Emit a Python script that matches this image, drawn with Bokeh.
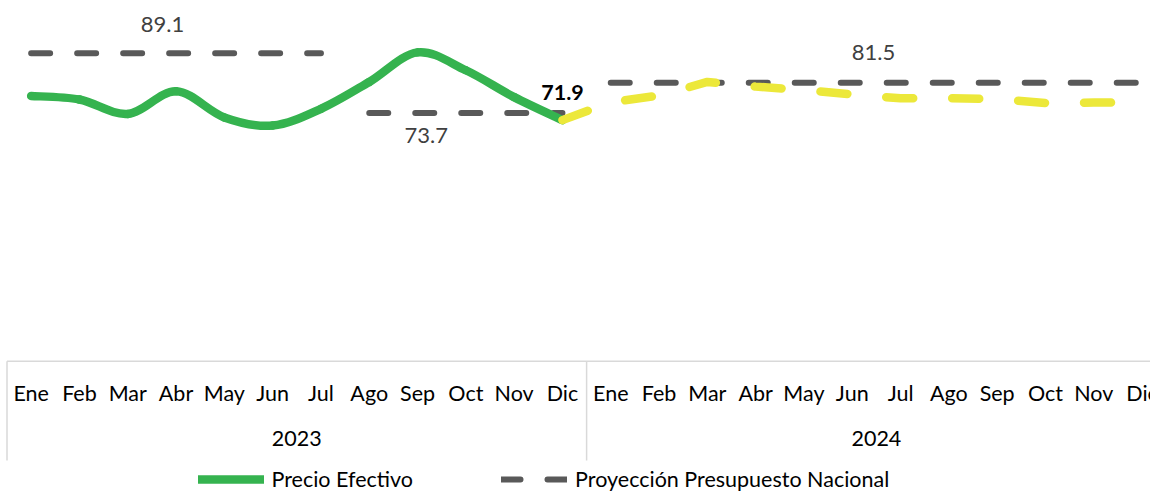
from bokeh.plotting import figure
from bokeh.models import Range1d, ColumnDataSource, Legend, LegendItem
from bokeh.core.properties import value
from bokeh.embed import file_html
from bokeh.resources import INLINE

# ---------------- data ----------------
meses = ["Ene", "Feb", "Mar", "Abr", "May", "Jun", "Jul", "Ago", "Sep", "Oct", "Nov", "Dic"]
anios = ["2023", "2024"]

# Precio Efectivo, Ene-Dic 2023
precio_efectivo = [78.1, 77.2, 73.5, 79.3, 72.6, 70.5, 74.8, 81.7, 89.3, 84.7, 77.8, 71.9]
# Precio estimado (amarillo), Dic 2023 - Dic 2024
precio_estimado = [71.9, 76.5, 78.2, 81.7, 80.5, 79.6, 78.5, 77.5, 77.5, 77.3, 76.3, 76.4, 76.4]
# Proyección Presupuesto Nacional
presupuesto_ene_jul_2023 = [89.1, 89.1, 89.1, 89.1, 89.1, 89.1, 89.1]
presupuesto_ago_dic_2023 = [73.7, 73.7, 73.7, 73.7, 73.7]
presupuesto_2024 = [81.5, 81.5, 81.5, 81.5, 81.5, 81.5, 81.5, 81.5, 81.5, 81.5, 81.5, 81.5]

# ---------------- layout ----------------
W, H = 1150, 491
PX_PER_CAT = 48.3
X0 = -30.65 / PX_PER_CAT
Y_MIN, Y_MAX = 10, 100            # value axis of the plotting area
PX_PER_UNIT = 3.896
AXIS_PY = 360.8                   # pixel row of the value-axis minimum
Y_BOTTOM = Y_MIN - (H - AXIS_PY) / PX_PER_UNIT
Y_TOP = Y_MIN + AXIS_PY / PX_PER_UNIT

FONT = "Lato"
GREEN = "#35b34f"
YELLOW = "#ece83a"
GRAY = "#595959"

p = figure(width=W, height=H, output_backend="svg", toolbar_location=None,
           x_range=Range1d(X0, X0 + W / PX_PER_CAT), y_range=Range1d(Y_BOTTOM, Y_TOP),
           min_border=0, outline_line_color=None)
p.xaxis.visible = False
p.yaxis.visible = False
p.xgrid.visible = False
p.ygrid.visible = False
p.background_fill_color = "white"
p.border_fill_color = "white"

n_cat = len(meses) * len(anios)

def v_of_px(py):
    return Y_MIN + (AXIS_PY - py) / PX_PER_UNIT

# category table (below the plotting area)
p.segment(x0=[-0.5], y0=[Y_MIN], x1=[n_cat - 0.5], y1=[Y_MIN], line_color="#d9d9d9", line_width=1.5)
sep_x = [-0.5 + k * len(meses) for k in range(len(anios) + 1)]
p.segment(x0=sep_x, y0=[Y_MIN] * len(sep_x), x1=sep_x, y1=[v_of_px(460)] * len(sep_x),
          line_color="#d9d9d9", line_width=1.5)

mes_x = list(range(n_cat))
mes_lbl = meses * len(anios)
p.text(x=mes_x, y=[v_of_px(392)] * n_cat, text=mes_lbl, text_align="center", text_baseline="middle",
       text_font=value(FONT), text_font_size="21.5px", text_color="#000000")
anio_x = [k * len(meses) + (len(meses) - 1) / 2 for k in range(len(anios))]
p.text(x=anio_x, y=[v_of_px(437.5)] * len(anios), text=anios, text_align="center", text_baseline="middle",
       text_font=value(FONT), text_font_size="21.5px", text_color="#000000")

# Proyección Presupuesto Nacional (gray dashed)
dash_gray = "19 27"
g1 = p.line(list(range(0, 7)), presupuesto_ene_jul_2023, line_color=GRAY, line_width=6,
            line_dash=dash_gray, line_cap="round")
p.line(list(range(7, 12)), presupuesto_ago_dic_2023, line_color=GRAY, line_width=6,
       line_dash=dash_gray, line_cap="round")
p.line(list(range(12, 24)), presupuesto_2024, line_color=GRAY, line_width=6,
       line_dash=dash_gray, line_cap="round")

# Precio Efectivo (green smoothed line, bezier segments)
xs = list(range(len(precio_efectivo)))
ys = precio_efectivo
seg = dict(x0=[], y0=[], x1=[], y1=[], cx0=[], cy0=[], cx1=[], cy1=[])
n = len(xs)
for i in range(n - 1):
    a = max(i - 1, 0)
    d = min(i + 2, n - 1)
    seg["x0"].append(xs[i]); seg["y0"].append(ys[i])
    seg["x1"].append(xs[i + 1]); seg["y1"].append(ys[i + 1])
    seg["cx0"].append(xs[i] + (xs[i + 1] - xs[a]) / 6); seg["cy0"].append(ys[i] + (ys[i + 1] - ys[a]) / 6)
    seg["cx1"].append(xs[i + 1] - (xs[d] - xs[i]) / 6); seg["cy1"].append(ys[i + 1] - (ys[d] - ys[i]) / 6)
green = p.bezier(source=ColumnDataSource(seg), x0="x0", y0="y0", x1="x1", y1="y1",
                 cx0="cx0", cy0="cy0", cx1="cx1", cy1="cy1",
                 line_color=GREEN, line_width=8.5, line_cap="round")

# estimated price (yellow dashed)
p.line(list(range(11, 11 + len(precio_estimado))), precio_estimado, line_color=YELLOW, line_width=8.5,
       line_dash="27 39", line_cap="round", line_join="round")

# data labels
lab_src = ColumnDataSource(dict(
    x=[2.72, 8.18, 17.44],
    y=[presupuesto_ene_jul_2023[0], presupuesto_ago_dic_2023[0], presupuesto_2024[0]],
    t=[f"{presupuesto_ene_jul_2023[0]:.1f}", f"{presupuesto_ago_dic_2023[0]:.1f}", f"{presupuesto_2024[0]:.1f}"],
    off=[-29, 22, -30]))
p.text(x="x", y="y", text="t", y_offset="off", source=lab_src, text_align="center", text_baseline="middle",
       text_font=value(FONT), text_font_size="22px", text_color="#404040")
p.text(x=[len(precio_efectivo) - 1], y=[precio_efectivo[-1]], text=[f"{precio_efectivo[-1]:.1f}"],
       y_offset=-28, text_align="center", text_baseline="middle",
       text_font=value(FONT), text_font_size="21.5px", text_font_style="bold", text_color="#000000")

legend = Legend(items=[LegendItem(label="Precio Efectivo", renderers=[green]),
                       LegendItem(label="Proyección Presupuesto Nacional", renderers=[g1])],
                orientation="horizontal", location=(197.5, -1), glyph_width=66, glyph_height=20,
                label_standoff=8, spacing=88, padding=0, margin=0,
                border_line_alpha=0, background_fill_alpha=0,
                label_text_font=FONT, label_text_font_size="21.5px", label_text_color="#000000")
p.add_layout(legend)

open("out.html", "w").write(file_html(p, INLINE))
